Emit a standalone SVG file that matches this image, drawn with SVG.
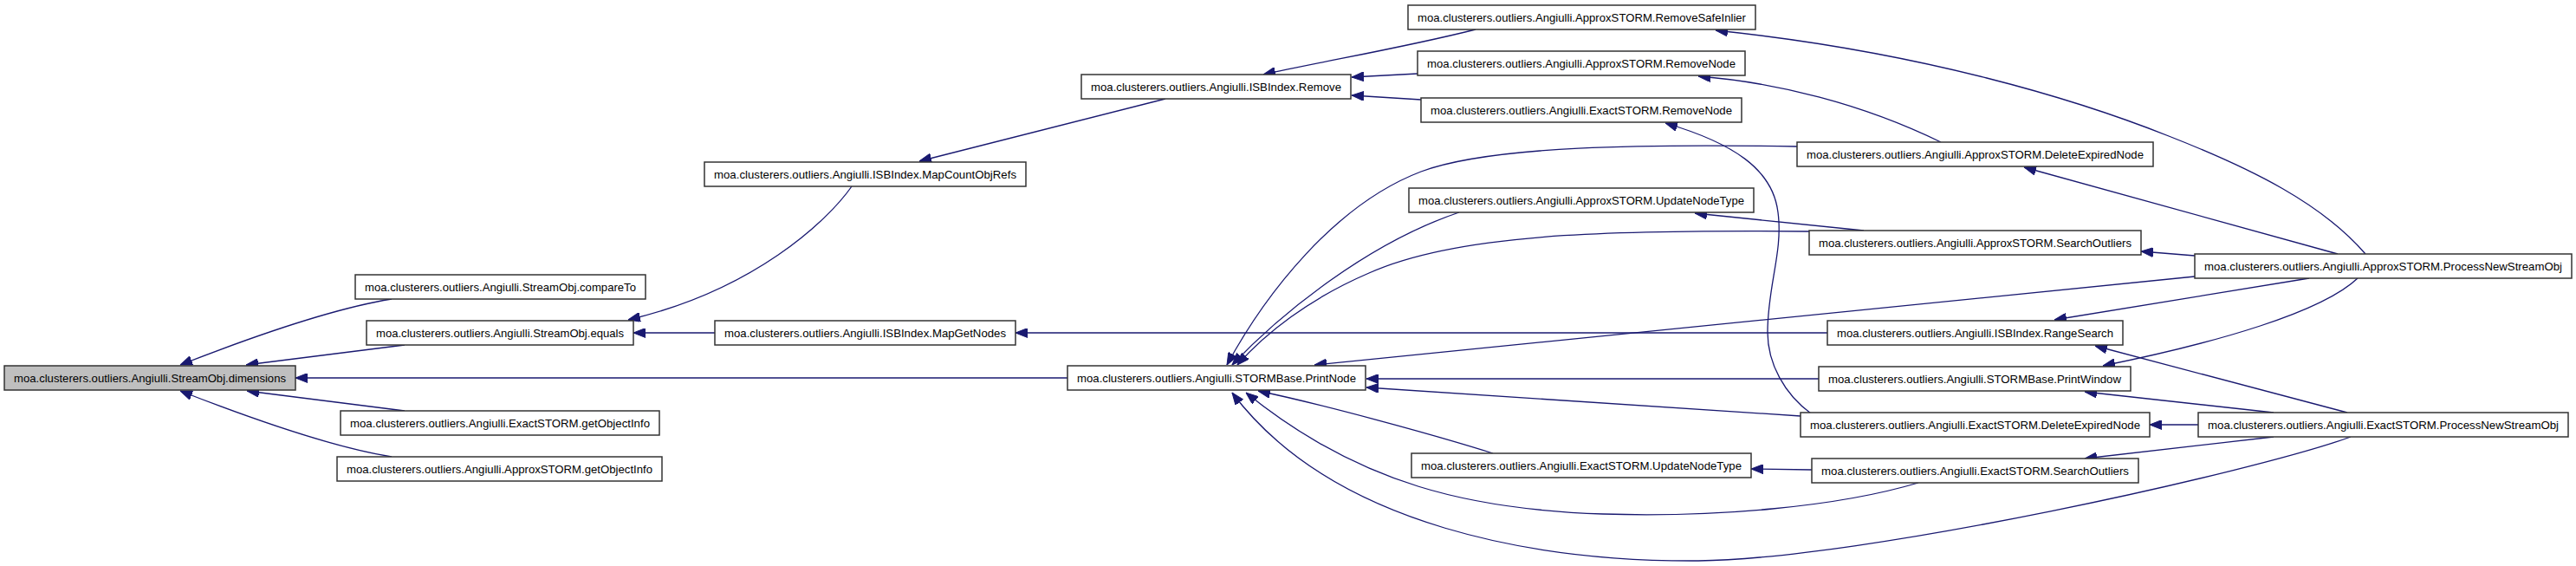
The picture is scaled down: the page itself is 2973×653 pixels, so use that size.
<svg xmlns="http://www.w3.org/2000/svg" width="2973" height="653" viewBox="0 0 2973 653">
<style>
.n rect{fill:#fff;stroke:#333;stroke-width:1.5}
.n.hl rect{fill:#bfbfbf}
.n text{font-family:"Liberation Sans",Arial,sans-serif;font-size:13.5px;fill:#000;text-anchor:middle}
.e path{fill:none;stroke:#191970;stroke-width:1.3;marker-end:url(#ah)}
</style>
<defs>
<marker id="ah" markerUnits="userSpaceOnUse" markerWidth="14" markerHeight="11" viewBox="0 0 14 11" refX="14" refY="5.5" orient="auto">
<path d="M0,0 L14,5.5 L0,11 z" fill="#191970" stroke="#191970" stroke-width="1"/>
</marker>
</defs>
<rect width="2973" height="653" fill="#fff"/>
<g id="edges" class="e">
<path d="M452,345 C390,355 300,385 208,421"/>
<path d="M467,398 L284,421"/>
<path d="M1232,436 L341,436"/>
<path d="M467,474 L285,451"/>
<path d="M452,527 C390,517 300,487 208,451"/>
<path d="M983,215 C955,255 870,335 725,369"/>
<path d="M825,384 L731,384"/>
<path d="M1345,114 L1061,186"/>
<path d="M2109,384 L1172,384"/>
<path d="M1703,34 C1620,55 1530,70 1458,86"/>
<path d="M1636,85 L1560,89"/>
<path d="M1640,115 L1560,110"/>
<path d="M2730,293 C2680,235 2600,195 2503,157 C2400,116 2220,60 1980,35"/>
<path d="M2240,164 C2150,120 2050,95 1960,88"/>
<path d="M2698,293 L2336,193"/>
<path d="M2090,477 C2060,455 2040,420 2040,383 C2040,330 2058,290 2052,245 C2046,195 2000,165 1922,142"/>
<path d="M2074,169 C1900,166 1720,168 1640,198 C1540,236 1460,340 1416,421"/>
<path d="M1684,245 C1580,280 1480,360 1422,421"/>
<path d="M2088,267 C1850,265 1680,270 1580,315 C1510,345 1460,385 1428,421"/>
<path d="M2533,319 L1517,421"/>
<path d="M2099,437 L1577,437"/>
<path d="M2078,480 L1577,447"/>
<path d="M1723,523 C1650,500 1520,465 1452,451"/>
<path d="M2214,557 C2120,585 1980,597 1850,593 C1700,588 1570,560 1438,453"/>
<path d="M2713,504 C2600,545 2150,645 1960,647 C1780,648 1540,610 1422,453"/>
<path d="M2665,321 L2371,369"/>
<path d="M2709,476 L2418,399"/>
<path d="M2721,321 C2680,360 2560,395 2427,422"/>
<path d="M2624,476 L2406,452"/>
<path d="M2537,490 L2481,490"/>
<path d="M2624,504 L2406,529"/>
<path d="M2533,295 L2471,290"/>
<path d="M2151,266 L1956,246"/>
<path d="M2091,542 L2021,541"/>
</g>
<g id="n_dimensions" class="n hl"><rect x="5" y="422" width="336" height="28"/><text x="173" y="441" textLength="314" lengthAdjust="spacingAndGlyphs">moa.clusterers.outliers.Angiulli.StreamObj.dimensions</text></g>
<g id="n_compareTo" class="n"><rect x="410" y="317" width="335" height="28"/><text x="577.5" y="336" textLength="313" lengthAdjust="spacingAndGlyphs">moa.clusterers.outliers.Angiulli.StreamObj.compareTo</text></g>
<g id="n_equals" class="n"><rect x="423" y="370" width="308" height="28"/><text x="577" y="389" textLength="286" lengthAdjust="spacingAndGlyphs">moa.clusterers.outliers.Angiulli.StreamObj.equals</text></g>
<g id="n_exact_getObjectInfo" class="n"><rect x="393" y="474" width="368" height="28"/><text x="577" y="493" textLength="346" lengthAdjust="spacingAndGlyphs">moa.clusterers.outliers.Angiulli.ExactSTORM.getObjectInfo</text></g>
<g id="n_approx_getObjectInfo" class="n"><rect x="389" y="527" width="375" height="28"/><text x="576.5" y="546" textLength="353" lengthAdjust="spacingAndGlyphs">moa.clusterers.outliers.Angiulli.ApproxSTORM.getObjectInfo</text></g>
<g id="n_MapCountObjRefs" class="n"><rect x="813" y="187" width="371" height="28"/><text x="998.5" y="206" textLength="349" lengthAdjust="spacingAndGlyphs">moa.clusterers.outliers.Angiulli.ISBIndex.MapCountObjRefs</text></g>
<g id="n_MapGetNodes" class="n"><rect x="825" y="370" width="347" height="28"/><text x="998.5" y="389" textLength="325" lengthAdjust="spacingAndGlyphs">moa.clusterers.outliers.Angiulli.ISBIndex.MapGetNodes</text></g>
<g id="n_Remove" class="n"><rect x="1248" y="86" width="311" height="28"/><text x="1403.5" y="105" textLength="289" lengthAdjust="spacingAndGlyphs">moa.clusterers.outliers.Angiulli.ISBIndex.Remove</text></g>
<g id="n_PrintNode" class="n"><rect x="1232" y="422" width="344" height="28"/><text x="1404" y="441" textLength="322" lengthAdjust="spacingAndGlyphs">moa.clusterers.outliers.Angiulli.STORMBase.PrintNode</text></g>
<g id="n_RemoveSafeInlier" class="n"><rect x="1625" y="6" width="401" height="28"/><text x="1825.5" y="25" textLength="379" lengthAdjust="spacingAndGlyphs">moa.clusterers.outliers.Angiulli.ApproxSTORM.RemoveSafeInlier</text></g>
<g id="n_approx_RemoveNode" class="n"><rect x="1636" y="59" width="378" height="28"/><text x="1825" y="78" textLength="356" lengthAdjust="spacingAndGlyphs">moa.clusterers.outliers.Angiulli.ApproxSTORM.RemoveNode</text></g>
<g id="n_exact_RemoveNode" class="n"><rect x="1640" y="113" width="370" height="28"/><text x="1825" y="132" textLength="348" lengthAdjust="spacingAndGlyphs">moa.clusterers.outliers.Angiulli.ExactSTORM.RemoveNode</text></g>
<g id="n_approx_UpdateNodeType" class="n"><rect x="1626" y="217" width="398" height="28"/><text x="1825" y="236" textLength="376" lengthAdjust="spacingAndGlyphs">moa.clusterers.outliers.Angiulli.ApproxSTORM.UpdateNodeType</text></g>
<g id="n_exact_UpdateNodeType" class="n"><rect x="1629" y="523" width="392" height="28"/><text x="1825" y="542" textLength="370" lengthAdjust="spacingAndGlyphs">moa.clusterers.outliers.Angiulli.ExactSTORM.UpdateNodeType</text></g>
<g id="n_approx_DeleteExpiredNode" class="n"><rect x="2074" y="164" width="411" height="28"/><text x="2279.5" y="183" textLength="389" lengthAdjust="spacingAndGlyphs">moa.clusterers.outliers.Angiulli.ApproxSTORM.DeleteExpiredNode</text></g>
<g id="n_approx_SearchOutliers" class="n"><rect x="2088" y="266" width="383" height="28"/><text x="2279.5" y="285" textLength="361" lengthAdjust="spacingAndGlyphs">moa.clusterers.outliers.Angiulli.ApproxSTORM.SearchOutliers</text></g>
<g id="n_RangeSearch" class="n"><rect x="2109" y="370" width="341" height="28"/><text x="2279.5" y="389" textLength="319" lengthAdjust="spacingAndGlyphs">moa.clusterers.outliers.Angiulli.ISBIndex.RangeSearch</text></g>
<g id="n_PrintWindow" class="n"><rect x="2099" y="423" width="360" height="28"/><text x="2279" y="442" textLength="338" lengthAdjust="spacingAndGlyphs">moa.clusterers.outliers.Angiulli.STORMBase.PrintWindow</text></g>
<g id="n_exact_DeleteExpiredNode" class="n"><rect x="2078" y="476" width="403" height="28"/><text x="2279.5" y="495" textLength="381" lengthAdjust="spacingAndGlyphs">moa.clusterers.outliers.Angiulli.ExactSTORM.DeleteExpiredNode</text></g>
<g id="n_exact_SearchOutliers" class="n"><rect x="2091" y="529" width="377" height="28"/><text x="2279.5" y="548" textLength="355" lengthAdjust="spacingAndGlyphs">moa.clusterers.outliers.Angiulli.ExactSTORM.SearchOutliers</text></g>
<g id="n_approx_ProcessNewStreamObj" class="n"><rect x="2533" y="293" width="435" height="28"/><text x="2750.5" y="312" textLength="413" lengthAdjust="spacingAndGlyphs">moa.clusterers.outliers.Angiulli.ApproxSTORM.ProcessNewStreamObj</text></g>
<g id="n_exact_ProcessNewStreamObj" class="n"><rect x="2537" y="476" width="427" height="28"/><text x="2750.5" y="495" textLength="405" lengthAdjust="spacingAndGlyphs">moa.clusterers.outliers.Angiulli.ExactSTORM.ProcessNewStreamObj</text></g>
</svg>
